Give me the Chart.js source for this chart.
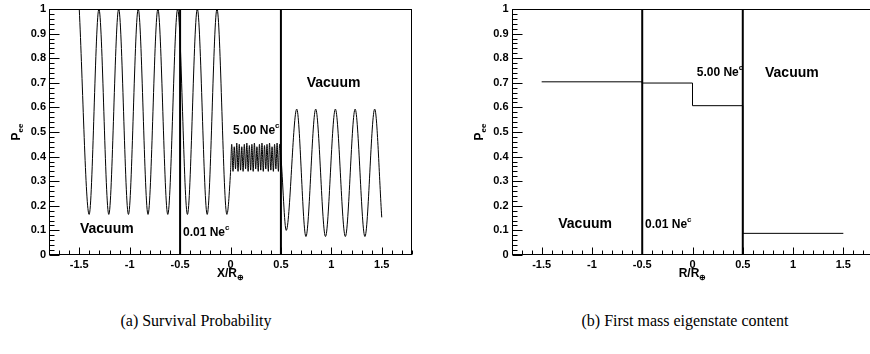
<!DOCTYPE html>
<html>
<head>
<meta charset="utf-8">
<script src="https://cdn.jsdelivr.net/npm/chart.js@4.4.0/dist/chart.umd.min.js"></script>
<style>
  body { margin: 0; width: 870px; height: 354px; overflow: hidden; background: #fff; position: relative; }
  canvas { position: absolute; top: 0; }
  .cap { position: absolute; top: 312px; font-family: 'Liberation Serif', serif; font-size: 16px; color: #000; white-space: nowrap; transform: translateX(-50%); }
</style>
</head>
<body>
<canvas id="left" width="435" height="300" style="left:0"></canvas>
<canvas id="right" width="440" height="300" style="left:435px"></canvas>
<div class="cap" style="left:196px">(a) Survival Probability</div>
<div class="cap" style="left:685px">(b) First mass eigenstate content</div>
<script>
// survival probability (extrema and edges)
const SURV_X = [-1.5, -1.402, -1.305, -1.207, -1.109, -1.012, -0.915, -0.818, -0.72, -0.622, -0.524, -0.427, -0.329, -0.231, -0.134, -0.036, 0,
  0.012, 0.025, 0.037, 0.05, 0.062, 0.075, 0.087, 0.1, 0.112, 0.125, 0.137, 0.15, 0.162, 0.175, 0.187, 0.2, 0.212, 0.225, 0.237, 0.25,
  0.262, 0.275, 0.287, 0.3, 0.312, 0.325, 0.337, 0.35, 0.362, 0.375, 0.387, 0.4, 0.412, 0.425, 0.437, 0.45, 0.462, 0.475, 0.487, 0.5,
  0.553, 0.657, 0.748, 0.845, 0.942, 1.04, 1.139, 1.236, 1.333, 1.43, 1.5];
const SURV_Y = [1, 0.165, 1, 0.165, 1, 0.165, 1, 0.165, 1, 0.165, 1, 0.165, 1, 0.165, 1, 0.165, 0.335,
  0.45, 0.34, 0.44, 0.35, 0.455, 0.34, 0.45, 0.345, 0.44, 0.34, 0.45, 0.35, 0.455, 0.34, 0.445, 0.345, 0.45, 0.34, 0.455, 0.35,
  0.44, 0.34, 0.45, 0.345, 0.455, 0.34, 0.445, 0.35, 0.45, 0.34, 0.455, 0.345, 0.44, 0.34, 0.45, 0.35, 0.455, 0.34, 0.45, 0.4,
  0.1, 0.593, 0.075, 0.593, 0.075, 0.593, 0.075, 0.593, 0.075, 0.593, 0.153];

// first mass eigenstate content, step per region
const STEP_X = [-1.5, -0.5, 0, 0.5, 1.5];
const STEP_Y = [0.704, 0.699, 0.607, 0.088, 0.088];

// region boundaries
const BOUNDARY_X = [-0.5, 0.5];

const X_TICKS = [-1.5, -1, -0.5, 0, 0.5, 1, 1.5];
const X_LABELS = ['-1.5', '-1', '-0.5', '0', '0.5', '1', '1.5'];
const Y_TICKS = [0, 0.1, 0.2, 0.3, 0.4, 0.5, 0.6, 0.7, 0.8, 0.9, 1];
const Y_LABELS = ['0', '0.1', '0.2', '0.3', '0.4', '0.5', '0.6', '0.7', '0.8', '0.9', '1'];

const FONT = "'Liberation Sans', Arial, sans-serif";

function drawRich(ctx, parts, x, y, align) {
  let w = 0;
  parts.forEach(p => { ctx.font = 'bold ' + p.s + 'px ' + FONT; w += ctx.measureText(p.t).width; });
  let cx = align === 'center' ? x - w / 2 : x;
  parts.forEach(p => {
    ctx.font = 'bold ' + p.s + 'px ' + FONT;
    ctx.fillText(p.t, cx, y + (p.dy || 0));
    cx += ctx.measureText(p.t).width;
  });
}

const vac = [{ t: 'Vacuum', s: 14 }];
const ne001 = [{ t: '0.01 Ne', s: 12 }, { t: 'c', s: 8, dy: -6 }];
const ne5 = [{ t: '5.00 Ne', s: 12 }, { t: 'c', s: 8, dy: -6 }];

const deco = {
  id: 'deco',
  afterDraw(chart, args, opts) {
    const { ctx, chartArea: a, scales: { x, y } } = chart;
    ctx.save();
    ctx.strokeStyle = '#000';
    ctx.fillStyle = '#000';
    ctx.lineWidth = 1;
    const L = Math.round(a.left) + 0.5, R = Math.round(a.right) - 0.5;
    const T = Math.round(a.top) + 0.5, B = Math.round(a.bottom) - 0.5;
    ctx.strokeRect(L, T, R - L, B - T);

    // ticks pointing into the frame
    ctx.beginPath();
    for (let i = -18; i <= 18; i++) {
      const px = Math.round(x.getPixelForValue(i / 10)) + 0.5;
      const len = i % 5 === 0 ? 7 : 4;
      ctx.moveTo(px, B); ctx.lineTo(px, B - len);
    }
    for (let i = 0; i <= 50; i++) {
      const py = Math.round(y.getPixelForValue(i / 50)) + 0.5;
      const len = i % 5 === 0 ? 10 : 5;
      ctx.moveTo(L, py); ctx.lineTo(L + len, py);
    }
    ctx.stroke();

    ctx.textBaseline = 'alphabetic';
    // x title
    drawRich(ctx, [{ t: opts.xTitle, s: 12 }, { t: '\u2295', s: 8, dy: 3 }], x.getPixelForValue(0), 277, 'center');
    // y title
    ctx.save();
    ctx.translate(a.left - 29, (a.top + a.bottom) / 2);
    ctx.rotate(-Math.PI / 2);
    drawRich(ctx, [{ t: 'P', s: 12 }, { t: 'ee', s: 8, dy: 3 }], 0, 0, 'center');
    ctx.restore();

    opts.labels.forEach(l => {
      const size = l.parts[0].s;
      drawRich(ctx, l.parts, x.getPixelForValue(l.x), y.getPixelForValue(l.y) + size * 0.36, 'left');
    });
    ctx.restore();
  }
};

function boundaryDatasets() {
  return BOUNDARY_X.map(b => ({
    data: [{ x: b, y: 0 }, { x: b, y: 1 }],
    borderColor: '#000', borderWidth: 2, pointRadius: 0
  }));
}

function makeOptions(yWidth, padRight, xTitle, labels) {
  return {
    responsive: false,
    animation: false,
    devicePixelRatio: 1,
    layout: { padding: { left: 0, right: padRight, top: 9, bottom: 0 } },
    plugins: { legend: { display: false }, tooltip: { enabled: false }, deco: { xTitle, labels } },
    scales: {
      x: {
        type: 'linear', min: -1.8, max: 1.8,
        afterBuildTicks: s => { s.ticks = X_TICKS.map(v => ({ value: v })); },
        afterFit: s => { s.height = 45; s.paddingLeft = 0; s.paddingRight = 0; },
        grid: { display: false, drawTicks: false },
        border: { display: false },
        ticks: { color: '#000', padding: 3, maxRotation: 0, autoSkip: false,
          font: { family: FONT, size: 11, weight: 'bold' },
          callback: (v, i) => X_LABELS[i] }
      },
      y: {
        min: 0, max: 1,
        afterBuildTicks: s => { s.ticks = Y_TICKS.map(v => ({ value: v })); },
        afterFit: s => { s.width = yWidth; s.paddingTop = 0; s.paddingBottom = 0; },
        grid: { display: false, drawTicks: false },
        border: { display: false },
        ticks: { color: '#000', padding: 3, autoSkip: false,
          font: { family: FONT, size: 11, weight: 'bold' },
          callback: (v, i) => Y_LABELS[i] }
      }
    }
  };
}

new Chart(document.getElementById('left'), {
  type: 'line',
  data: {
    datasets: [{
      data: SURV_X.map((v, i) => ({ x: v, y: SURV_Y[i] })),
      borderColor: '#000', borderWidth: 1, pointRadius: 0,
      cubicInterpolationMode: 'monotone'
    }, ...boundaryDatasets()]
  },
  options: makeOptions(49, 23, 'X/R', [
    { x: -1.493, y: 0.11, parts: vac },
    { x: -0.471, y: 0.096, parts: ne001 },
    { x: 0.025, y: 0.508, parts: ne5 },
    { x: 0.756, y: 0.704, parts: vac }
  ]),
  plugins: [deco]
});

new Chart(document.getElementById('right'), {
  type: 'line',
  data: {
    datasets: [{
      data: STEP_X.map((v, i) => ({ x: v, y: STEP_Y[i] })),
      borderColor: '#000', borderWidth: 1, pointRadius: 0,
      stepped: 'before'
    }, ...boundaryDatasets()]
  },
  options: makeOptions(76.5, 1.5, 'R/R', [
    { x: -1.335, y: 0.129, parts: vac },
    { x: -0.472, y: 0.128, parts: ne001 },
    { x: 0.042, y: 0.745, parts: ne5 },
    { x: 0.721, y: 0.745, parts: vac }
  ]),
  plugins: [deco]
});
</script>
</body>
</html>
